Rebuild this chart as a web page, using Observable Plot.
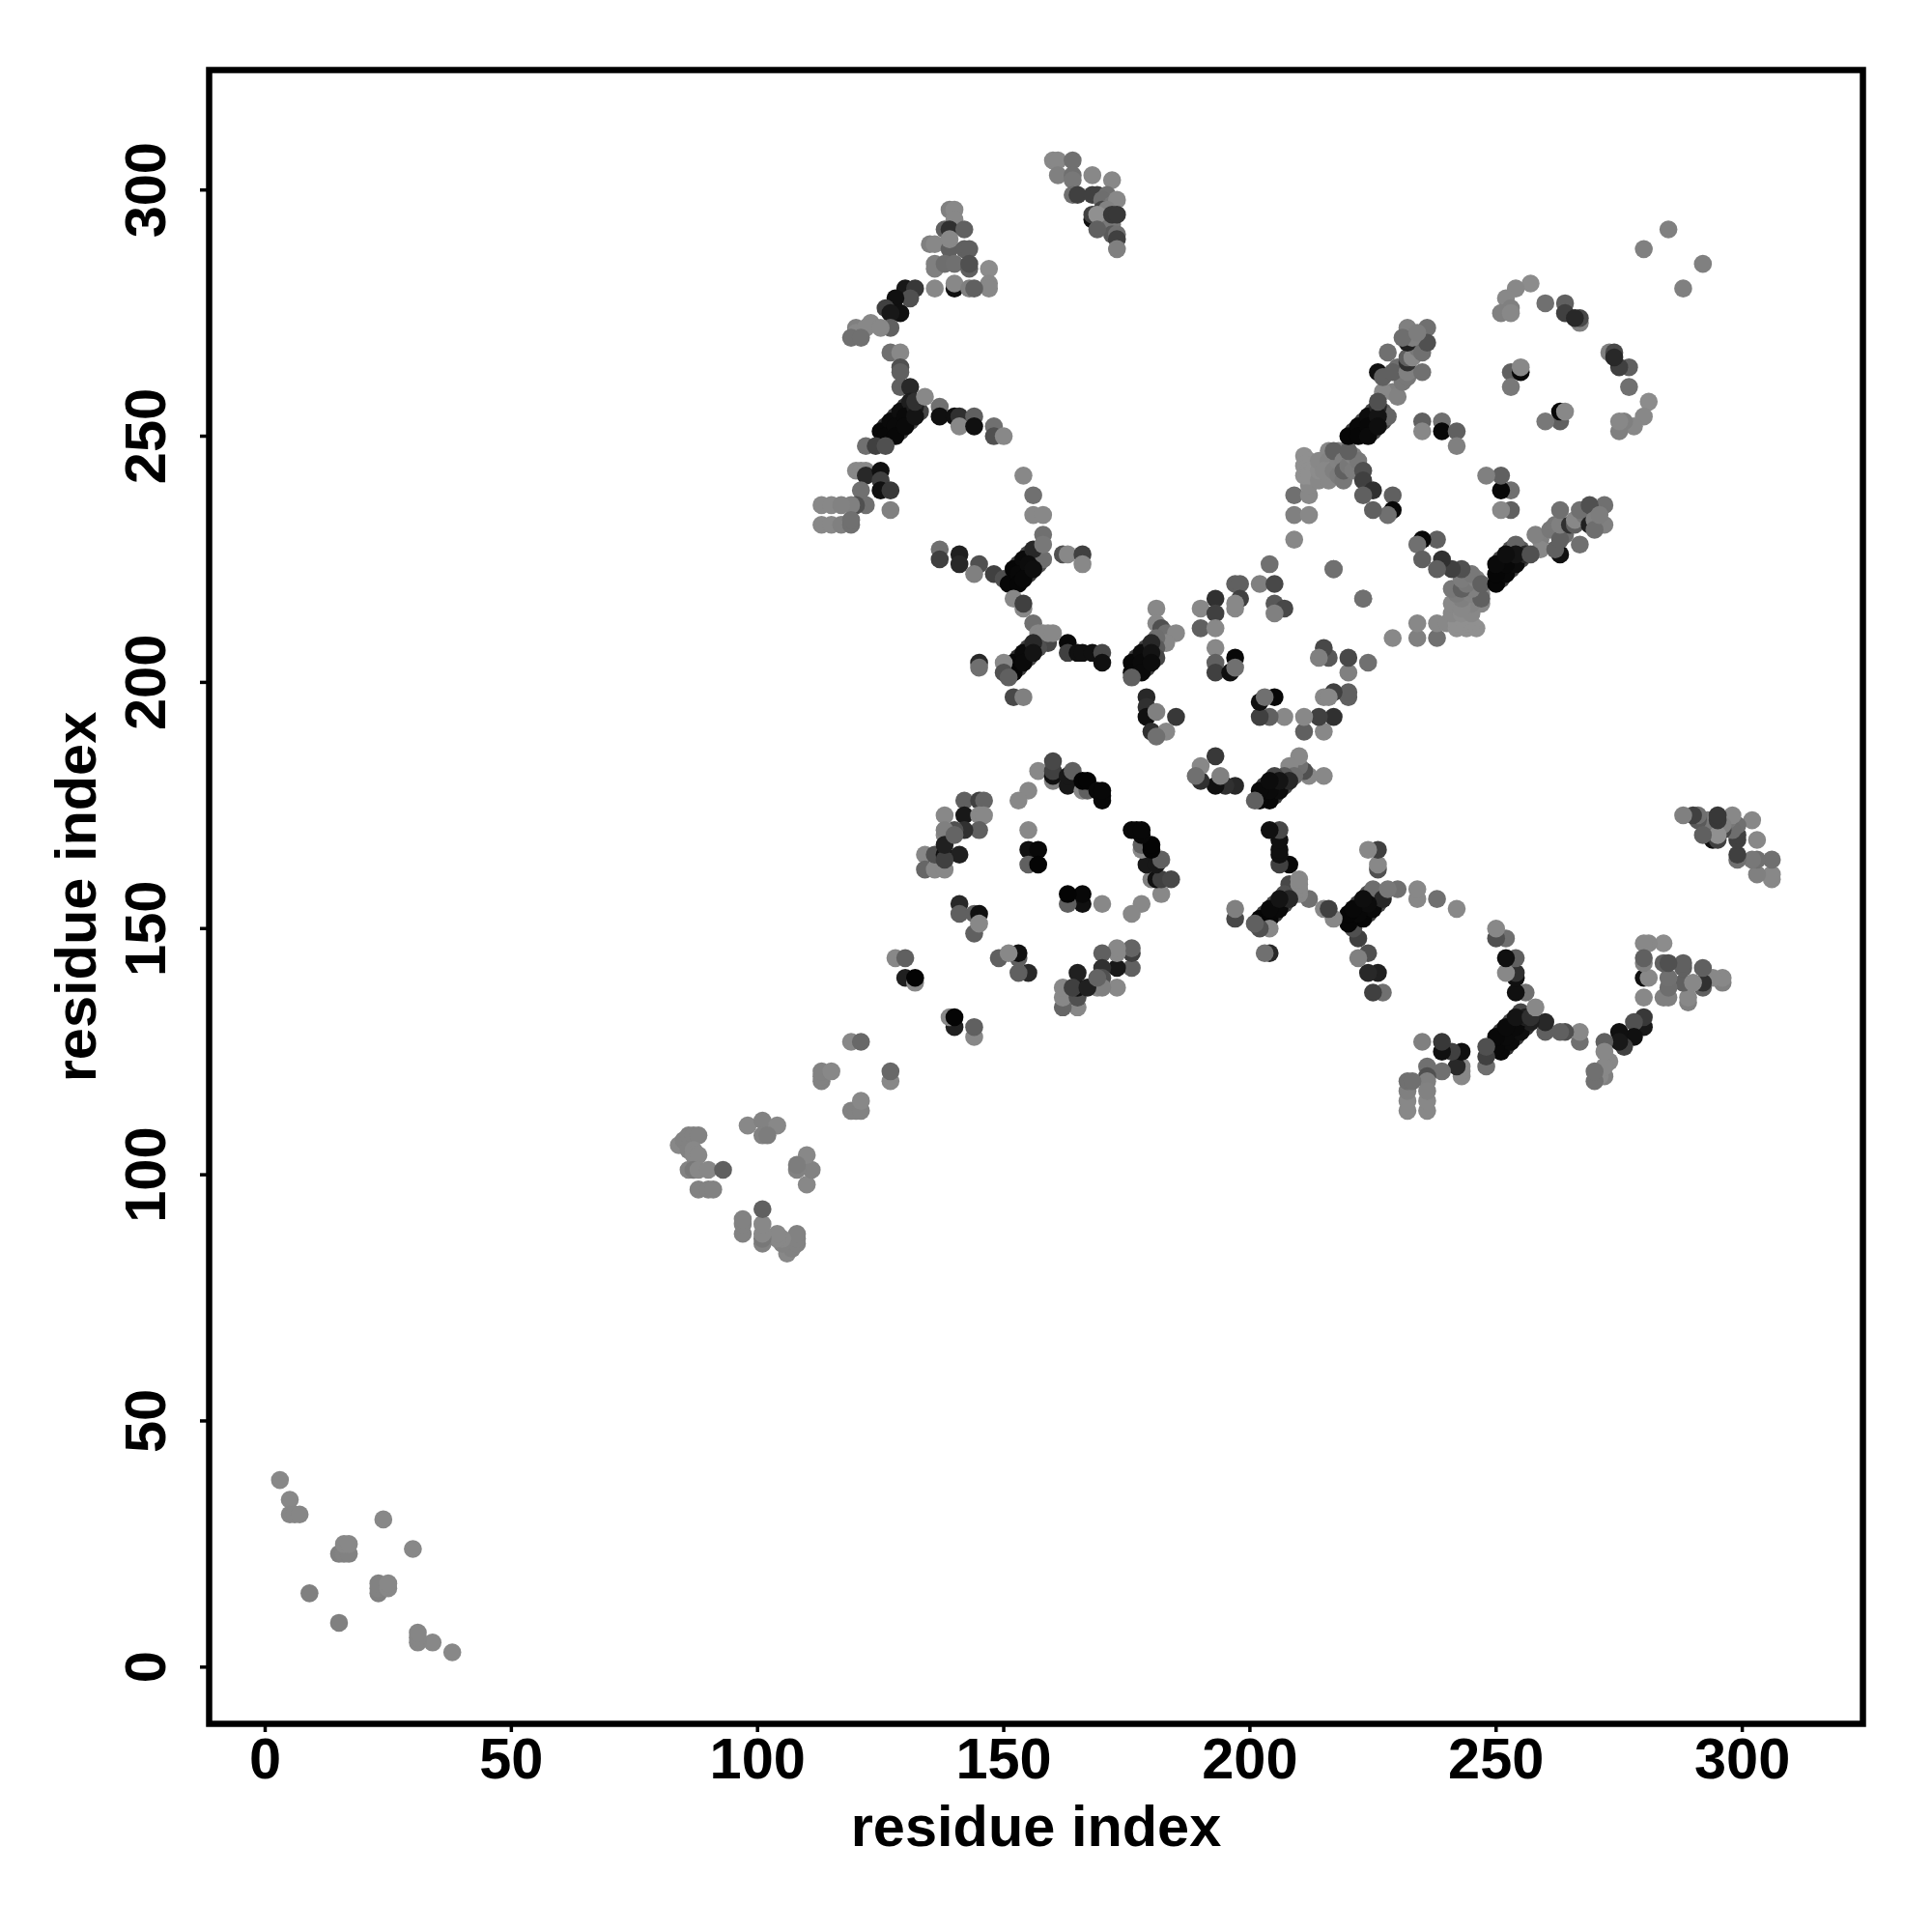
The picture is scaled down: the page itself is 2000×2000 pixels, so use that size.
<!DOCTYPE html>
<html><head><meta charset="utf-8">
<script src="https://cdn.jsdelivr.net/npm/d3@7"></script>
<script src="https://cdn.jsdelivr.net/npm/@observablehq/plot@0.6"></script>
<style>html,body{margin:0;padding:0;background:#fff}svg{display:block}</style>
</head><body><div id="chart"></div>
<script>
const contacts = [
[3,38,136],[5,34,136],[5,31,134],[6,31,134],[7,31,134],[9,15,128],[15,23,128],[16,23,130],[17,23,130],[16,25,136],[17,25,136],[24,30,136],
[84,106,136],[85,107,130],[86,108,130],[87,108,130],[88,108,130],[86,105,130],[87,105,136],[87,104,136],[88,104,136],[86,101,130],[87,101,120],[88,101,136],[90,101,136],[93,101,96],[88,97,130],[90,97,130],[91,97,130],[98,110,136],[101,111,130],[104,110,136],[101,108,130],[102,108,125],
[113,119,130],[113,120,130],[113,121,130],[115,121,136],[119,127,136],[121,127,104],
[128,144,136],[130,144,96],[130,140,32],[132,139,136],[132,140,4],
[141,155,40],[141,153,96],[144,153,96],[145,153,16],[144,149,96],[145,151,136],
[134,165,136],[134,162,102],[136,162,136],[138,162,136],[138,173,136],[142,176,96],[145,176,64],[146,176,100],[142,173,24],[145,173,136],[146,173,136],[145,170,96],[142,170,48],[140,170,80],[138,169,136],[138,170,128],[136,165,80],[138,165,16],[141,165,32],[138,164,64],[138,167,32],[140,169,100],
[155,170,136],[155,166,16],[157,166,8],[155,163,96],[157,163,4],
[157,182,136],[155,178,136],[153,176,136],[160,180,128],[160,181,16],[160,182,64],[160,184,72],[163,179,24],[163,181,24],[164,182,96],[166,178,136],[167,178,96],[166,180,4],[167,180,4],[169,178,8],[170,176,8],[170,177,8],[170,178,8],
[160,306,136],[161,306,136],[164,306,112],[161,303,128],[164,303,112],[164,302,120],[168,303,136],[172,302,136],[164,299,112],[165,299,64],[168,299,64],[169,299,64],[171,299,112],[170,298,110],[172,297,120],[173,298,136],[168,294,16],[168,295,64],[170,296,70],[171,296,130],[170,294,60],[171,293,110],[172,293,120],[172,291,90],[169,295,144],[172,295,56],[173,295,56],[169,292,96],[173,291,112],[173,290,64],[173,288,128],
[139,296,128],[140,296,136],[140,294,136],[138,292,96],[139,292,48],[142,292,96],[135,289,128],[136,289,136],[139,288,96],[139,290,136],[142,288,96],[143,288,96],[136,284,128],[136,285,128],[138,285,110],[140,285,112],[143,284,96],[143,285,80],[147,284,140],[147,281,136],[147,280,136],[136,280,136],[140,280,16],[140,281,136],[143,280,128],[144,280,96],
[130,280,24],[132,280,56],[131,278,80],[128,278,16],[129,275,16],[126,276,64],[127,275,24],[127,272,96],[123,273,136],[120,272,128],[120,271,136],[122,272,136],[125,272,136],[119,270,112],[121,270,112],
[127,267,112],[129,267,136],[129,264,80],[129,263,96],[129,260,96],[131,260,40],
[126,252,50],[128,254,60],[130,256,50],[127,251,60],[129,253,70],[131,255,60],[129,251,60],[131,253,70],[133,255,70],
[125,251,8],[127,253,10],[129,255,14],[131,257,30],[126,250,8],[128,252,10],[130,254,10],[132,256,30],[128,250,8],[130,252,10],[132,254,20],
[132,257,48],[134,258,136],[137,256,112],[137,254,16],[140,254,16],[141,254,48],[141,252,136],[144,254,96],[144,252,16],[148,252,112],[148,250,80],[150,250,136],
[122,248,112],[124,248,64],[126,248,80],[120,243,136],[121,243,136],[122,243,136],[122,242,40],[125,243,16],[125,241,64],[121,239,112],[125,239,16],[127,239,56],[127,235,128],[122,236,112],[120,236,80],[119,236,128],[113,236,136],[115,236,136],[117,236,130],[113,232,136],[115,232,136],[117,232,128],[119,232,112],[119,233,112],
[154,242,136],[156,238,112],[156,234,136],[158,234,136],[158,230,112],[162,226,80],[163,226,136],[166,226,64],[166,224,136],[137,227,112],[137,225,64],[141,226,32],[141,224,40],[145,224,80],[144,222,128],[148,222,64],[150,221,80],
[153,224,60],[155,226,70],[157,226,100],[152,221,50],[154,223,60],[156,225,90],[155,222,60],[157,224,80],[158,225,110],
[152,223,6],[154,225,10],[156,227,40],[151,220,6],[153,222,8],[155,224,12],[153,220,6],[154,221,8],[156,223,14],[158,228,120],
[152,217,136],[154,215,136],[154,216,64],[156,212,112],[157,210,136],[158,210,136],[159,208,72],[159,210,136],[160,210,136],
[163,208,8],[163,206,64],[165,206,16],[166,206,16],[168,206,16],[170,206,72],[170,204,16],
[153,205,50],[155,207,70],[153,203,60],[155,205,70],[157,207,80],
[152,204,8],[154,206,10],[156,208,40],[152,202,6],[154,204,10],[156,206,20],[150,204,136],[150,202,80],[151,201,96],[145,204,40],[145,203,112],[152,197,72],[154,197,128],
[181,215,136],[181,212,136],[182,211,80],[183,210,112],[185,210,136],[183,208,136],
[177,205,60],[179,207,70],[181,209,110],[177,203,50],[179,205,60],[181,207,90],[179,203,60],[181,205,70],
[176,204,8],[178,206,12],[180,208,40],[176,202,8],[178,204,10],[180,206,20],[178,202,10],[180,204,12],[176,201,96],
[179,197,40],[179,195,48],[179,193,16],[180,190,48],[181,194,128],[185,193,56],[183,190,136],[181,189,112],
[190,215,136],[193,217,48],[193,214,64],[197,215,136],[197,220,96],[198,220,96],[198,217,64],[197,216,136],[190,211,96],[193,211,136],[193,207,136],[193,204,96],[193,202,64],[196,202,16],[197,205,8],[197,203,112],
[202,220,128],[204,224,112],[205,220,72],[205,216,88],[207,215,72],[205,214,128],[209,229,136],[217,223,112],[223,217,112],
[209,238,112],[209,234,128],[212,234,136],[212,238,136],[212,240,136],[211,242,144],[211,244,144],[211,246,144],[212,245,144],[212,244,144],[212,243,144],[212,242,144],[213,243,144],[214,241,136],[214,243,140],[214,245,136],[216,247,136],[216,245,132],[216,243,136],[216,241,136],[215,243,136],[217,243,128],[218,242,124],[218,245,130],[218,247,136],[217,247,96],[219,245,128],[219,241,120],[219,243,96],[220,244,120],[221,243,124],[221,246,130],[222,245,120],[220,247,96],[223,243,80],[223,241,64],[225,239,48],[223,238,96],[229,238,96],[229,235,8],[228,234,112],[225,235,96],
[221,251,60],[223,253,70],[225,255,70],[223,251,60],[225,253,70],[227,255,90],[225,251,70],[227,253,80],[228,254,100],
[220,250,6],[222,252,8],[224,254,12],[226,256,40],[222,250,6],[224,252,8],[226,254,20],[224,250,10],[226,252,14],
[229,259,128],[227,259,136],[226,257,80],[230,258,130],[230,264,110],[231,261,120],[232,262,120],[226,263,16],[227,262,96],[229,263,96],[232,263,128],[235,263,112],[228,267,112],[232,265,48],[232,266,96],[233,266,136],[234,268,120],[235,267,112],[232,272,128],[236,272,112],[236,269,80],[232,269,32],[233,270,128],[231,270,110],[234,271,125],
[235,253,96],[235,251,136],[239,253,112],[239,251,8],[242,251,96],[242,248,128],
[257,281,140],[254,280,136],[252,278,136],[253,276,128],[251,275,128],[253,275,136],[260,277,112],[264,277,96],[264,275,64],[267,273,128],[267,274,72],[266,274,40],
[253,263,96],[255,263,8],[255,264,136],[253,260,120],
[280,288,128],[285,292,128]
];
const residueI = contacts.map(c => c[0]);
const residueJ = contacts.map(c => c[1]);
const shade = contacts.map(c => c[2]);
const tickValues = [0, 50, 100, 150, 200, 250, 300];
const rows = [];
residueI.forEach((a, k) => {
  rows.push({x: a, y: residueJ[k], g: shade[k]});
  rows.push({x: residueJ[k], y: a, g: shade[k]});
});
const fontFamily = "Liberation Sans, Arial, sans-serif";
const frameL = 216, frameR = 1928, frameT = 72, frameB = 1784;
const ppu = 5.097, x0 = 274, y0 = 1725.3;
const chart = Plot.plot({
  width: 2000, height: 2000,
  marginLeft: frameL, marginRight: 2000 - frameR, marginTop: frameT, marginBottom: 2000 - frameB,
  style: {fontFamily, background: "#fff"},
  x: {domain: [(frameL - x0) / ppu, (frameR - x0) / ppu]},
  y: {domain: [(y0 - frameB) / ppu, (y0 - frameT) / ppu]},
  color: {type: "linear", domain: [0, 255], range: ["#000", "#fff"], interpolate: "rgb"},
  marks: [
    Plot.dot(rows, {x: "x", y: "y", fill: "g", r: 9.3, stroke: "none"}),
    Plot.frame({stroke: "#000", strokeWidth: 6.5}),
    Plot.axisX({ticks: tickValues, tickFormat: d => d, tickSize: 9, tickPadding: 5, fontSize: 59.5, fontWeight: "bold", strokeWidth: 3.5,
      label: "residue index", labelAnchor: "center", labelArrow: "none", labelOffset: 126}),
    Plot.axisY({ticks: tickValues, tickFormat: d => d, tickSize: 9, tickPadding: 37, tickRotate: -90, textAnchor: "middle", fontSize: 59.5, fontWeight: "bold", strokeWidth: 3.5,
      label: "residue index", labelAnchor: "center", labelArrow: "none", labelOffset: 160})
  ]
});
document.getElementById("chart").appendChild(chart);
</script></body></html>
